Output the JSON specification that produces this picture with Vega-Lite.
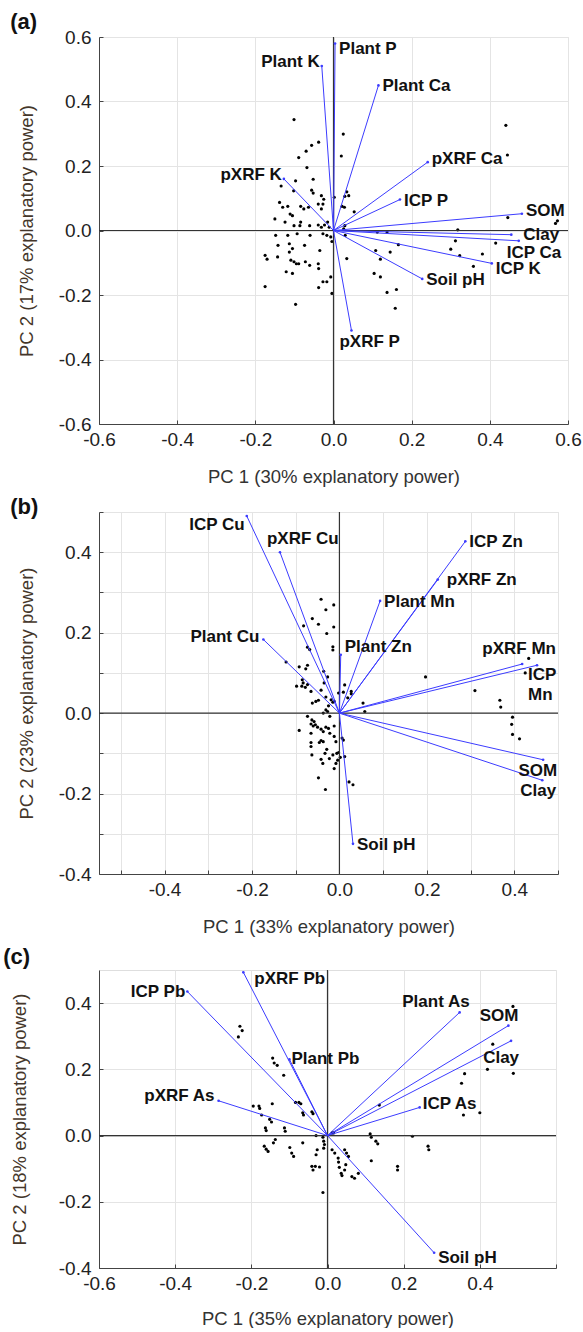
{
  "$schema": "https://vega.github.io/schema/vega-lite/v6.json",
  "padding": {"left": 2, "top": 10, "right": 0, "bottom": 0},
  "spacing": 9,
  "align": "none",
  "config": {
    "font": "Liberation Sans",
    "view": {"stroke": "#dedede", "strokeWidth": 1},
    "axis": {"grid": true, "gridColor": "#e4e4e4", "gridWidth": 1, "domainColor": "#444", "tickColor": "#444", "tickSize": -4, "labelFontSize": 19, "labelColor": "#222", "titleFontSize": 18.5, "titleFontWeight": "normal", "titleColor": "#333", "labelFlush": false, "labelOverlap": false},
    "axisX": {"labelPadding": 10, "titlePadding": 18},
    "axisY": {"labelPadding": 12, "titlePadding": 22, "titleColor": "#44362a"},
    "title": {"fontSize": 22, "fontWeight": "bold", "anchor": "start", "frame": "bounds", "color": "#111"},
    "text": {"fontWeight": "bold", "fontSize": 17, "color": "#111"}
  },
  "datasets": {
    "pts_a": [
      {"pc1":-0.101,"pc2":0.344},{"pc1":0.025,"pc2":0.299},{"pc1":-0.038,"pc2":0.274},{"pc1":-0.056,"pc2":0.264},{"pc1":-0.070,"pc2":0.246},{"pc1":0.020,"pc2":0.231},{"pc1":-0.089,"pc2":0.226},{"pc1":-0.068,"pc2":0.195},{"pc1":-0.097,"pc2":0.154},{"pc1":-0.052,"pc2":0.159},{"pc1":-0.134,"pc2":0.138},{"pc1":-0.102,"pc2":0.123},{"pc1":-0.056,"pc2":0.125},{"pc1":-0.052,"pc2":0.116},{"pc1":0.034,"pc2":0.12},{"pc1":0.039,"pc2":0.108},{"pc1":0.029,"pc2":0.106},{"pc1":0.002,"pc2":0.103},{"pc1":-0.031,"pc2":0.108},{"pc1":-0.025,"pc2":0.097},{"pc1":-0.138,"pc2":0.087},{"pc1":-0.130,"pc2":0.072},{"pc1":-0.117,"pc2":0.075},{"pc1":-0.111,"pc2":0.051},{"pc1":-0.105,"pc2":0.046},{"pc1":-0.084,"pc2":0.075},{"pc1":-0.076,"pc2":0.067},{"pc1":-0.064,"pc2":0.072},{"pc1":-0.039,"pc2":0.082},{"pc1":-0.027,"pc2":0.082},{"pc1":-0.031,"pc2":0.067},{"pc1":0.022,"pc2":0.075},{"pc1":0.028,"pc2":0.072},{"pc1":0.053,"pc2":0.058},{"pc1":-0.150,"pc2":0.036},{"pc1":-0.124,"pc2":0.026},{"pc1":-0.101,"pc2":0.015},{"pc1":-0.084,"pc2":0.026},{"pc1":-0.086,"pc2":0.015},{"pc1":-0.061,"pc2":0.015},{"pc1":-0.039,"pc2":0.017},{"pc1":-0.031,"pc2":0.010},{"pc1":-0.023,"pc2":0.017},{"pc1":-0.015,"pc2":0.026},{"pc1":-0.011,"pc2":0.010},{"pc1":0.029,"pc2":0.015},{"pc1":0.026,"pc2":0.005},{"pc1":0.030,"pc2":-0.015},{"pc1":-0.148,"pc2":-0.015},{"pc1":-0.117,"pc2":-0.015},{"pc1":-0.093,"pc2":-0.010},{"pc1":-0.060,"pc2":-0.015},{"pc1":-0.027,"pc2":-0.010},{"pc1":-0.017,"pc2":-0.015},{"pc1":-0.007,"pc2":-0.020},{"pc1":-0.004,"pc2":-0.034},{"pc1":0.112,"pc2":-0.005},{"pc1":0.137,"pc2":-0.005},{"pc1":-0.113,"pc2":-0.041},{"pc1":-0.105,"pc2":-0.056},{"pc1":-0.142,"pc2":-0.046},{"pc1":-0.074,"pc2":-0.046},{"pc1":-0.035,"pc2":-0.062},{"pc1":0.166,"pc2":-0.044},{"pc1":-0.175,"pc2":-0.077},{"pc1":-0.170,"pc2":-0.089},{"pc1":-0.143,"pc2":-0.082},{"pc1":-0.113,"pc2":-0.067},{"pc1":-0.109,"pc2":-0.092},{"pc1":-0.095,"pc2":-0.103},{"pc1":-0.089,"pc2":-0.103},{"pc1":-0.101,"pc2":-0.097},{"pc1":-0.072,"pc2":-0.097},{"pc1":-0.061,"pc2":-0.108},{"pc1":-0.039,"pc2":-0.103},{"pc1":-0.038,"pc2":-0.118},{"pc1":0.034,"pc2":-0.087},{"pc1":0.108,"pc2":-0.062},{"pc1":0.145,"pc2":-0.067},{"pc1":0.120,"pc2":-0.089},{"pc1":-0.121,"pc2":-0.128},{"pc1":-0.105,"pc2":-0.133},{"pc1":-0.007,"pc2":-0.144},{"pc1":-0.017,"pc2":-0.159},{"pc1":-0.027,"pc2":-0.159},{"pc1":0.104,"pc2":-0.133},{"pc1":0.120,"pc2":-0.144},{"pc1":-0.175,"pc2":-0.174},{"pc1":-0.038,"pc2":-0.177},{"pc1":-0.004,"pc2":-0.195},{"pc1":0.137,"pc2":-0.192},{"pc1":0.161,"pc2":-0.183},{"pc1":-0.097,"pc2":-0.229},{"pc1":0.158,"pc2":-0.241},
      {"pc1":0.441,"pc2":0.326},{"pc1":0.445,"pc2":0.234},{"pc1":0.446,"pc2":0.04},{"pc1":0.573,"pc2":0.03},{"pc1":0.568,"pc2":0.022},{"pc1":0.318,"pc2":0.002},{"pc1":0.312,"pc2":-0.032},{"pc1":0.3,"pc2":-0.058},{"pc1":0.323,"pc2":-0.078},{"pc1":0.381,"pc2":-0.073},{"pc1":0.358,"pc2":-0.111},{"pc1":0.415,"pc2":-0.039}
    ],
    "vec_a": [
      {"var":"Plant P","pc1":0.004,"pc2":0.58},{"var":"Plant K","pc1":-0.03,"pc2":0.51},{"var":"Plant Ca","pc1":0.115,"pc2":0.45},{"var":"pXRF Ca","pc1":0.241,"pc2":0.212},{"var":"pXRF K","pc1":-0.127,"pc2":0.16},{"var":"ICP P","pc1":0.17,"pc2":0.096},{"var":"SOM","pc1":0.482,"pc2":0.052},{"var":"Clay","pc1":0.455,"pc2":-0.013},{"var":"ICP Ca","pc1":0.474,"pc2":-0.032},{"var":"ICP K","pc1":0.405,"pc2":-0.102},{"var":"Soil pH","pc1":0.227,"pc2":-0.15},{"var":"pXRF P","pc1":0.046,"pc2":-0.31}
    ],
    "pts_b": [
      {"pc1":-0.042,"pc2":0.283},{"pc1":-0.013,"pc2":0.269},{"pc1":-0.031,"pc2":0.257},{"pc1":-0.062,"pc2":0.235},{"pc1":-0.048,"pc2":0.221},{"pc1":-0.082,"pc2":0.217},{"pc1":-0.013,"pc2":0.214},{"pc1":-0.029,"pc2":0.198},{"pc1":-0.073,"pc2":0.164},{"pc1":-0.068,"pc2":0.158},{"pc1":-0.015,"pc2":0.165},{"pc1":-0.015,"pc2":0.157},{"pc1":-0.122,"pc2":0.127},{"pc1":-0.092,"pc2":0.115},{"pc1":-0.073,"pc2":0.119},{"pc1":-0.077,"pc2":0.110},{"pc1":-0.036,"pc2":0.104},{"pc1":-0.027,"pc2":0.09},{"pc1":-0.085,"pc2":0.083},{"pc1":-0.083,"pc2":0.075},{"pc1":-0.098,"pc2":0.067},{"pc1":-0.086,"pc2":0.067},{"pc1":-0.078,"pc2":0.064},{"pc1":-0.073,"pc2":0.071},{"pc1":-0.065,"pc2":0.054},{"pc1":-0.042,"pc2":0.057},{"pc1":-0.035,"pc2":0.075},{"pc1":-0.031,"pc2":0.04},{"pc1":-0.019,"pc2":0.033},{"pc1":-0.015,"pc2":0.027},{"pc1":-0.025,"pc2":0.018},{"pc1":-0.012,"pc2":0.029},{"pc1":0.012,"pc2":0.07},{"pc1":-0.002,"pc2":0.05},{"pc1":0.009,"pc2":0.052},{"pc1":0.019,"pc2":0.038},{"pc1":0.027,"pc2":0.054},{"pc1":0.027,"pc2":0.048},{"pc1":0.054,"pc2":0.025},{"pc1":0.058,"pc2":0.004},{"pc1":-0.062,"pc2":0.025},{"pc1":-0.054,"pc2":0.029},{"pc1":-0.048,"pc2":0.032},{"pc1":-0.073,"pc2":-0.008},{"pc1":-0.063,"pc2":-0.017},{"pc1":-0.058,"pc2":-0.021},{"pc1":-0.055,"pc2":-0.029},{"pc1":-0.037,"pc2":0.0},{"pc1":-0.031,"pc2":0.008},{"pc1":-0.022,"pc2":-0.008},{"pc1":-0.027,"pc2":0.004},{"pc1":-0.065,"pc2":-0.027},{"pc1":-0.06,"pc2":-0.032},{"pc1":-0.05,"pc2":-0.035},{"pc1":-0.042,"pc2":-0.04},{"pc1":-0.037,"pc2":-0.046},{"pc1":-0.031,"pc2":-0.035},{"pc1":-0.025,"pc2":-0.038},{"pc1":-0.022,"pc2":-0.05},{"pc1":-0.012,"pc2":-0.032},{"pc1":-0.092,"pc2":-0.043},{"pc1":-0.065,"pc2":-0.05},{"pc1":-0.065,"pc2":-0.073},{"pc1":-0.065,"pc2":-0.083},{"pc1":-0.042,"pc2":-0.068},{"pc1":-0.037,"pc2":-0.071},{"pc1":-0.046,"pc2":-0.073},{"pc1":-0.012,"pc2":-0.058},{"pc1":-0.008,"pc2":-0.071},{"pc1":0.006,"pc2":-0.062},{"pc1":0.009,"pc2":-0.067},{"pc1":-0.029,"pc2":-0.09},{"pc1":-0.033,"pc2":-0.1},{"pc1":-0.063,"pc2":-0.104},{"pc1":-0.042,"pc2":-0.115},{"pc1":-0.038,"pc2":-0.125},{"pc1":-0.023,"pc2":-0.113},{"pc1":-0.015,"pc2":-0.104},{"pc1":-0.006,"pc2":-0.1},{"pc1":-0.002,"pc2":-0.098},{"pc1":0.002,"pc2":-0.11},{"pc1":-0.004,"pc2":-0.117},{"pc1":0.012,"pc2":-0.108},{"pc1":-0.008,"pc2":-0.125},{"pc1":-0.012,"pc2":-0.138},{"pc1":-0.048,"pc2":-0.161},{"pc1":-0.032,"pc2":-0.19},{"pc1":0.022,"pc2":-0.171},{"pc1":0.031,"pc2":-0.178},
      {"pc1":0.197,"pc2":0.09},{"pc1":0.31,"pc2":0.056},{"pc1":0.367,"pc2":0.032},{"pc1":0.369,"pc2":0.015},{"pc1":0.433,"pc2":0.136},{"pc1":0.425,"pc2":0.10},{"pc1":0.396,"pc2":-0.01},{"pc1":0.394,"pc2":-0.028},{"pc1":0.396,"pc2":-0.053},{"pc1":0.412,"pc2":-0.064}
    ],
    "vec_b": [
      {"var":"ICP Cu","pc1":-0.212,"pc2":0.49},{"var":"pXRF Cu","pc1":-0.136,"pc2":0.40},{"var":"ICP Zn","pc1":0.288,"pc2":0.427},{"var":"pXRF Zn","pc1":0.225,"pc2":0.332},{"var":"Plant Mn","pc1":0.093,"pc2":0.279},{"var":"Plant Cu","pc1":-0.174,"pc2":0.183},{"var":"Plant Zn","pc1":0.003,"pc2":0.145},{"var":"pXRF Mn","pc1":0.418,"pc2":0.122},{"var":"ICP Mn","pc1":0.452,"pc2":0.119},{"var":"SOM","pc1":0.466,"pc2":-0.116},{"var":"Clay","pc1":0.464,"pc2":-0.167},{"var":"Soil pH","pc1":0.031,"pc2":-0.325}
    ],
    "pts_c": [
      {"pc1":-0.23,"pc2":0.33},{"pc1":-0.224,"pc2":0.317},{"pc1":-0.234,"pc2":0.298},{"pc1":-0.144,"pc2":0.234},{"pc1":-0.140,"pc2":0.219},{"pc1":-0.132,"pc2":0.212},{"pc1":-0.115,"pc2":0.182},{"pc1":0.487,"pc2":0.39},{"pc1":0.434,"pc2":0.276},{"pc1":0.42,"pc2":0.2},{"pc1":0.488,"pc2":0.188},{"pc1":0.36,"pc2":0.187},{"pc1":0.352,"pc2":0.158},
      {"pc1":-0.195,"pc2":0.089},{"pc1":-0.18,"pc2":0.089},{"pc1":-0.178,"pc2":0.082},{"pc1":-0.145,"pc2":0.096},{"pc1":-0.173,"pc2":0.062},{"pc1":-0.084,"pc2":0.1},{"pc1":-0.075,"pc2":0.1},{"pc1":-0.07,"pc2":0.096},{"pc1":-0.065,"pc2":0.069},{"pc1":-0.063,"pc2":0.062},{"pc1":-0.041,"pc2":0.072},{"pc1":-0.038,"pc2":0.066},{"pc1":-0.152,"pc2":0.049},{"pc1":-0.147,"pc2":0.041},{"pc1":-0.163,"pc2":0.023},{"pc1":-0.161,"pc2":0.015},{"pc1":-0.113,"pc2":0.023},{"pc1":-0.111,"pc2":0.013},{"pc1":-0.137,"pc2":-0.012},{"pc1":-0.142,"pc2":-0.022},{"pc1":-0.166,"pc2":-0.032},{"pc1":-0.161,"pc2":-0.041},{"pc1":-0.156,"pc2":-0.048},{"pc1":-0.099,"pc2":-0.036},{"pc1":-0.094,"pc2":-0.053},{"pc1":-0.089,"pc2":-0.063},{"pc1":-0.065,"pc2":-0.022},{"pc1":-0.03,"pc2":0.0},{"pc1":-0.027,"pc2":-0.043},{"pc1":-0.03,"pc2":-0.058},{"pc1":-0.041,"pc2":-0.093},{"pc1":-0.038,"pc2":-0.104},{"pc1":-0.032,"pc2":-0.093},{"pc1":-0.021,"pc2":-0.095},{"pc1":-0.012,"pc2":-0.005},{"pc1":-0.01,"pc2":-0.017},{"pc1":-0.008,"pc2":-0.027},{"pc1":-0.01,"pc2":-0.038},{"pc1":0.012,"pc2":0.008},{"pc1":0.016,"pc2":0.008},{"pc1":0.012,"pc2":-0.043},{"pc1":0.019,"pc2":-0.053},{"pc1":0.028,"pc2":-0.068},{"pc1":0.029,"pc2":-0.08},{"pc1":0.031,"pc2":-0.096},{"pc1":0.036,"pc2":-0.114},{"pc1":0.038,"pc2":-0.121},{"pc1":0.045,"pc2":-0.043},{"pc1":0.05,"pc2":-0.053},{"pc1":0.055,"pc2":-0.063},{"pc1":0.048,"pc2":-0.088},{"pc1":0.045,"pc2":-0.104},{"pc1":0.064,"pc2":-0.124},{"pc1":0.071,"pc2":-0.129},{"pc1":0.081,"pc2":-0.114},{"pc1":0.112,"pc2":0.005},{"pc1":0.115,"pc2":-0.005},{"pc1":0.127,"pc2":-0.017},{"pc1":0.132,"pc2":-0.025},{"pc1":0.115,"pc2":-0.076},{"pc1":0.136,"pc2":0.092},{"pc1":0.184,"pc2":-0.093},{"pc1":0.184,"pc2":-0.104},{"pc1":0.223,"pc2":-0.002},{"pc1":0.264,"pc2":-0.032},{"pc1":0.266,"pc2":-0.043},{"pc1":0.357,"pc2":0.062},{"pc1":0.4,"pc2":0.069},{"pc1":-0.012,"pc2":-0.172}
    ],
    "vec_c": [
      {"var":"ICP Pb","pc1":-0.368,"pc2":0.435},{"var":"pXRF Pb","pc1":-0.221,"pc2":0.493},{"var":"Plant Pb","pc1":-0.1,"pc2":0.23},{"var":"Plant As","pc1":0.347,"pc2":0.372},{"var":"SOM","pc1":0.475,"pc2":0.332},{"var":"Clay","pc1":0.482,"pc2":0.286},{"var":"ICP As","pc1":0.242,"pc2":0.085},{"var":"pXRF As","pc1":-0.286,"pc2":0.105},{"var":"Soil pH","pc1":0.28,"pc2":-0.354}
    ]
  },
  "vconcat": [
    {
      "width": 469, "height": 387,
      "title": {"text": "(a)", "dx": -7, "offset": -6},
      "layer": [
        {"data": {"name": "pts_a"}, "mark": {"type": "circle", "size": 10, "color": "#000", "opacity": 1},
         "encoding": {
           "x": {"field": "pc1", "type": "quantitative", "title": "PC 1 (30% explanatory power)", "scale": {"domain": [-0.6, 0.6], "nice": false, "zero": false},
                 "axis": {"values": [-0.6, -0.4, -0.2, 0, 0.2, 0.4, 0.6], "labelExpr": "datum.value < -0.001 ? '-' + format(-datum.value, '.1f') : format(abs(datum.value), '.1f')"}},
           "y": {"field": "pc2", "type": "quantitative", "title": "PC 2 (17% explanatory power)", "scale": {"domain": [-0.6, 0.6], "nice": false, "zero": false},
                 "axis": {"values": [-0.6, -0.4, -0.2, 0, 0.2, 0.4, 0.6], "labelExpr": "datum.value < -0.001 ? '-' + format(-datum.value, '.1f') : format(abs(datum.value), '.1f')"}}
         }},
        {"data": {"values": [{"z": 0}]}, "mark": {"type": "rule", "color": "#333", "strokeWidth": 1.2}, "encoding": {"x": {"field": "z", "type": "quantitative"}}},
        {"data": {"values": [{"z": 0}]}, "mark": {"type": "rule", "color": "#333", "strokeWidth": 1.2}, "encoding": {"y": {"field": "z", "type": "quantitative"}}},
        {"data": {"name": "vec_a"}, "mark": {"type": "rule", "color": "#3c3cff", "strokeWidth": 1},
         "encoding": {"x": {"field": "pc1", "type": "quantitative"}, "y": {"field": "pc2", "type": "quantitative"}, "x2": {"datum": 0}, "y2": {"datum": 0}}},
        {"data": {"name": "vec_a"}, "mark": {"type": "circle", "size": 7, "color": "#3c3cff", "opacity": 1},
         "encoding": {"x": {"field": "pc1", "type": "quantitative"}, "y": {"field": "pc2", "type": "quantitative"}}},
        {"data": {"name": "vec_a"}, "transform": [{"filter": {"field": "var", "oneOf": ["Plant Ca", "ICP P", "Soil pH"]}}],
         "mark": {"type": "text", "align": "left", "baseline": "middle", "dx": 4, "dy": 1},
         "encoding": {"x": {"field": "pc1", "type": "quantitative"}, "y": {"field": "pc2", "type": "quantitative"}, "text": {"field": "var"}}},
        {"data": {"name": "vec_a"}, "transform": [{"filter": {"field": "var", "oneOf": ["Plant P", "ICP K"]}}],
         "mark": {"type": "text", "align": "left", "baseline": "middle", "dx": 4, "dy": 6},
         "encoding": {"x": {"field": "pc1", "type": "quantitative"}, "y": {"field": "pc2", "type": "quantitative"}, "text": {"field": "var"}}},
        {"data": {"name": "vec_a"}, "transform": [{"filter": {"field": "var", "oneOf": ["pXRF Ca", "SOM"]}}],
         "mark": {"type": "text", "align": "left", "baseline": "middle", "dx": 4, "dy": -3},
         "encoding": {"x": {"field": "pc1", "type": "quantitative"}, "y": {"field": "pc2", "type": "quantitative"}, "text": {"field": "var"}}},
        {"data": {"name": "vec_a"}, "transform": [{"filter": {"field": "var", "oneOf": ["Plant K", "pXRF K"]}}],
         "mark": {"type": "text", "align": "right", "baseline": "middle", "dx": -2, "dy": -4},
         "encoding": {"x": {"field": "pc1", "type": "quantitative"}, "y": {"field": "pc2", "type": "quantitative"}, "text": {"field": "var"}}},
        {"data": {"name": "vec_a"}, "transform": [{"filter": {"field": "var", "oneOf": ["Clay"]}}],
         "mark": {"type": "text", "align": "left", "baseline": "middle", "dx": 12, "dy": 0},
         "encoding": {"x": {"field": "pc1", "type": "quantitative"}, "y": {"field": "pc2", "type": "quantitative"}, "text": {"field": "var"}}},
        {"data": {"name": "vec_a"}, "transform": [{"filter": {"field": "var", "oneOf": ["ICP Ca", "pXRF P"]}}],
         "mark": {"type": "text", "align": "left", "baseline": "middle", "dx": -12, "dy": 12},
         "encoding": {"x": {"field": "pc1", "type": "quantitative"}, "y": {"field": "pc2", "type": "quantitative"}, "text": {"field": "var"}}}
      ]
    },
    {
      "width": 459, "height": 362,
      "title": {"text": "(b)", "dx": -7, "offset": -16},
      "layer": [
        {"data": {"name": "pts_b"}, "mark": {"type": "circle", "size": 10, "color": "#000", "opacity": 1},
         "encoding": {
           "x": {"field": "pc1", "type": "quantitative", "title": "PC 1 (33% explanatory power)", "scale": {"domain": [-0.55, 0.5], "nice": false, "zero": false},
                 "axis": {"values": [-0.5, -0.4, -0.3, -0.2, -0.1, 0, 0.1, 0.2, 0.3, 0.4, 0.5], "labelExpr": "abs(round(datum.value * 10)) % 2 == 1 ? '' : (datum.value < -0.001 ? '-' + format(-datum.value, '.1f') : format(abs(datum.value), '.1f'))"}},
           "y": {"field": "pc2", "type": "quantitative", "title": "PC 2 (23% explanatory power)", "scale": {"domain": [-0.4, 0.5], "nice": false, "zero": false},
                 "axis": {"values": [-0.4, -0.3, -0.2, -0.1, 0, 0.1, 0.2, 0.3, 0.4, 0.5], "labelExpr": "abs(round(datum.value * 10)) % 2 == 1 ? '' : (datum.value < -0.001 ? '-' + format(-datum.value, '.1f') : format(abs(datum.value), '.1f'))"}}
         }},
        {"data": {"values": [{"z": 0}]}, "mark": {"type": "rule", "color": "#333", "strokeWidth": 1.2}, "encoding": {"x": {"field": "z", "type": "quantitative"}}},
        {"data": {"values": [{"z": 0}]}, "mark": {"type": "rule", "color": "#333", "strokeWidth": 1.2}, "encoding": {"y": {"field": "z", "type": "quantitative"}}},
        {"data": {"name": "vec_b"}, "mark": {"type": "rule", "color": "#3c3cff", "strokeWidth": 1},
         "encoding": {"x": {"field": "pc1", "type": "quantitative"}, "y": {"field": "pc2", "type": "quantitative"}, "x2": {"datum": 0}, "y2": {"datum": 0}}},
        {"data": {"name": "vec_b"}, "mark": {"type": "circle", "size": 7, "color": "#3c3cff", "opacity": 1},
         "encoding": {"x": {"field": "pc1", "type": "quantitative"}, "y": {"field": "pc2", "type": "quantitative"}}},
        {"data": {"name": "vec_b"}, "transform": [{"filter": {"field": "var", "oneOf": ["ICP Zn", "Plant Mn", "Soil pH"]}}],
         "mark": {"type": "text", "align": "left", "baseline": "middle", "dx": 4, "dy": 1},
         "encoding": {"x": {"field": "pc1", "type": "quantitative"}, "y": {"field": "pc2", "type": "quantitative"}, "text": {"field": "var"}}},
        {"data": {"name": "vec_b"}, "transform": [{"filter": {"field": "var", "oneOf": ["pXRF Zn"]}}],
         "mark": {"type": "text", "align": "left", "baseline": "middle", "dx": 9, "dy": 0},
         "encoding": {"x": {"field": "pc1", "type": "quantitative"}, "y": {"field": "pc2", "type": "quantitative"}, "text": {"field": "var"}}},
        {"data": {"name": "vec_b"}, "transform": [{"filter": {"field": "var", "oneOf": ["Plant Zn"]}}],
         "mark": {"type": "text", "align": "left", "baseline": "middle", "dx": 4, "dy": -8},
         "encoding": {"x": {"field": "pc1", "type": "quantitative"}, "y": {"field": "pc2", "type": "quantitative"}, "text": {"field": "var"}}},
        {"data": {"name": "vec_b"}, "transform": [{"filter": {"field": "var", "oneOf": ["Plant Cu"]}}],
         "mark": {"type": "text", "align": "right", "baseline": "middle", "dx": -4, "dy": -3},
         "encoding": {"x": {"field": "pc1", "type": "quantitative"}, "y": {"field": "pc2", "type": "quantitative"}, "text": {"field": "var"}}},
        {"data": {"name": "vec_b"}, "transform": [{"filter": {"field": "var", "oneOf": ["ICP Cu"]}}],
         "mark": {"type": "text", "align": "right", "baseline": "middle", "dx": -2, "dy": 9},
         "encoding": {"x": {"field": "pc1", "type": "quantitative"}, "y": {"field": "pc2", "type": "quantitative"}, "text": {"field": "var"}}},
        {"data": {"name": "vec_b"}, "transform": [{"filter": {"field": "var", "oneOf": ["pXRF Cu"]}}],
         "mark": {"type": "text", "align": "left", "baseline": "middle", "dx": -13, "dy": -13},
         "encoding": {"x": {"field": "pc1", "type": "quantitative"}, "y": {"field": "pc2", "type": "quantitative"}, "text": {"field": "var"}}},
        {"data": {"name": "vec_b"}, "transform": [{"filter": {"field": "var", "oneOf": ["pXRF Mn"]}}],
         "mark": {"type": "text", "align": "center", "baseline": "middle", "dx": -3, "dy": -15},
         "encoding": {"x": {"field": "pc1", "type": "quantitative"}, "y": {"field": "pc2", "type": "quantitative"}, "text": {"field": "var"}}},
        {"data": {"name": "vec_b"}, "transform": [{"filter": {"field": "var", "oneOf": ["ICP Mn"]}}],
         "mark": {"type": "text", "align": "left", "baseline": "top", "dx": -9, "dy": 2, "lineBreak": " ", "lineHeight": 20},
         "encoding": {"x": {"field": "pc1", "type": "quantitative"}, "y": {"field": "pc2", "type": "quantitative"}, "text": {"field": "var"}}},
        {"data": {"name": "vec_b"}, "transform": [{"filter": {"field": "var", "oneOf": ["SOM", "Clay"]}}],
         "mark": {"type": "text", "align": "right", "baseline": "middle", "dx": 14, "dy": 11},
         "encoding": {"x": {"field": "pc1", "type": "quantitative"}, "y": {"field": "pc2", "type": "quantitative"}, "text": {"field": "var"}}}
      ]
    },
    {
      "width": 457, "height": 298,
      "title": {"text": "(c)", "dx": -7, "offset": 0},
      "layer": [
        {"data": {"name": "pts_c"}, "mark": {"type": "circle", "size": 10, "color": "#000", "opacity": 1},
         "encoding": {
           "x": {"field": "pc1", "type": "quantitative", "title": "PC 1 (35% explanatory power)", "scale": {"domain": [-0.6, 0.6], "nice": false, "zero": false},
                 "axis": {"values": [-0.6, -0.5, -0.4, -0.3, -0.2, -0.1, 0, 0.1, 0.2, 0.3, 0.4, 0.5, 0.6], "titlePadding": 16, "labelExpr": "(abs(round(datum.value * 10)) % 2 == 1 || datum.value > 0.55) ? '' : (datum.value < -0.001 ? '-' + format(-datum.value, '.1f') : format(abs(datum.value), '.1f'))"}},
           "y": {"field": "pc2", "type": "quantitative", "title": "PC 2 (18% explanatory power)", "scale": {"domain": [-0.4, 0.5], "nice": false, "zero": false},
                 "axis": {"values": [-0.4, -0.3, -0.2, -0.1, 0, 0.1, 0.2, 0.3, 0.4, 0.5], "titlePadding": 29, "labelExpr": "abs(round(datum.value * 10)) % 2 == 1 ? '' : (datum.value < -0.001 ? '-' + format(-datum.value, '.1f') : format(abs(datum.value), '.1f'))"}}
         }},
        {"data": {"values": [{"z": 0}]}, "mark": {"type": "rule", "color": "#333", "strokeWidth": 1.2}, "encoding": {"x": {"field": "z", "type": "quantitative"}}},
        {"data": {"values": [{"z": 0}]}, "mark": {"type": "rule", "color": "#333", "strokeWidth": 1.2}, "encoding": {"y": {"field": "z", "type": "quantitative"}}},
        {"data": {"name": "vec_c"}, "mark": {"type": "rule", "color": "#3c3cff", "strokeWidth": 1},
         "encoding": {"x": {"field": "pc1", "type": "quantitative"}, "y": {"field": "pc2", "type": "quantitative"}, "x2": {"datum": 0}, "y2": {"datum": 0}}},
        {"data": {"name": "vec_c"}, "mark": {"type": "circle", "size": 7, "color": "#3c3cff", "opacity": 1},
         "encoding": {"x": {"field": "pc1", "type": "quantitative"}, "y": {"field": "pc2", "type": "quantitative"}}},
        {"data": {"name": "vec_c"}, "transform": [{"filter": {"field": "var", "oneOf": ["ICP Pb"]}}],
         "mark": {"type": "text", "align": "right", "baseline": "middle", "dx": -2, "dy": 0},
         "encoding": {"x": {"field": "pc1", "type": "quantitative"}, "y": {"field": "pc2", "type": "quantitative"}, "text": {"field": "var"}}},
        {"data": {"name": "vec_c"}, "transform": [{"filter": {"field": "var", "oneOf": ["pXRF As"]}}],
         "mark": {"type": "text", "align": "right", "baseline": "middle", "dx": -4, "dy": -5},
         "encoding": {"x": {"field": "pc1", "type": "quantitative"}, "y": {"field": "pc2", "type": "quantitative"}, "text": {"field": "var"}}},
        {"data": {"name": "vec_c"}, "transform": [{"filter": {"field": "var", "oneOf": ["pXRF Pb"]}}],
         "mark": {"type": "text", "align": "left", "baseline": "middle", "dx": 11, "dy": 7},
         "encoding": {"x": {"field": "pc1", "type": "quantitative"}, "y": {"field": "pc2", "type": "quantitative"}, "text": {"field": "var"}}},
        {"data": {"name": "vec_c"}, "transform": [{"filter": {"field": "var", "oneOf": ["Plant Pb"]}}],
         "mark": {"type": "text", "align": "left", "baseline": "middle", "dx": 2, "dy": 0},
         "encoding": {"x": {"field": "pc1", "type": "quantitative"}, "y": {"field": "pc2", "type": "quantitative"}, "text": {"field": "var"}}},
        {"data": {"name": "vec_c"}, "transform": [{"filter": {"field": "var", "oneOf": ["ICP As"]}}],
         "mark": {"type": "text", "align": "left", "baseline": "middle", "dx": 3, "dy": -3},
         "encoding": {"x": {"field": "pc1", "type": "quantitative"}, "y": {"field": "pc2", "type": "quantitative"}, "text": {"field": "var"}}},
        {"data": {"name": "vec_c"}, "transform": [{"filter": {"field": "var", "oneOf": ["Soil pH"]}}],
         "mark": {"type": "text", "align": "left", "baseline": "middle", "dx": 4, "dy": 5},
         "encoding": {"x": {"field": "pc1", "type": "quantitative"}, "y": {"field": "pc2", "type": "quantitative"}, "text": {"field": "var"}}},
        {"data": {"name": "vec_c"}, "transform": [{"filter": {"field": "var", "oneOf": ["Plant As", "SOM"]}}],
         "mark": {"type": "text", "align": "right", "baseline": "middle", "dx": 10, "dy": -10},
         "encoding": {"x": {"field": "pc1", "type": "quantitative"}, "y": {"field": "pc2", "type": "quantitative"}, "text": {"field": "var"}}},
        {"data": {"name": "vec_c"}, "transform": [{"filter": {"field": "var", "oneOf": ["Clay"]}}],
         "mark": {"type": "text", "align": "right", "baseline": "middle", "dx": 8, "dy": 17},
         "encoding": {"x": {"field": "pc1", "type": "quantitative"}, "y": {"field": "pc2", "type": "quantitative"}, "text": {"field": "var"}}}
      ]
    }
  ]
}
